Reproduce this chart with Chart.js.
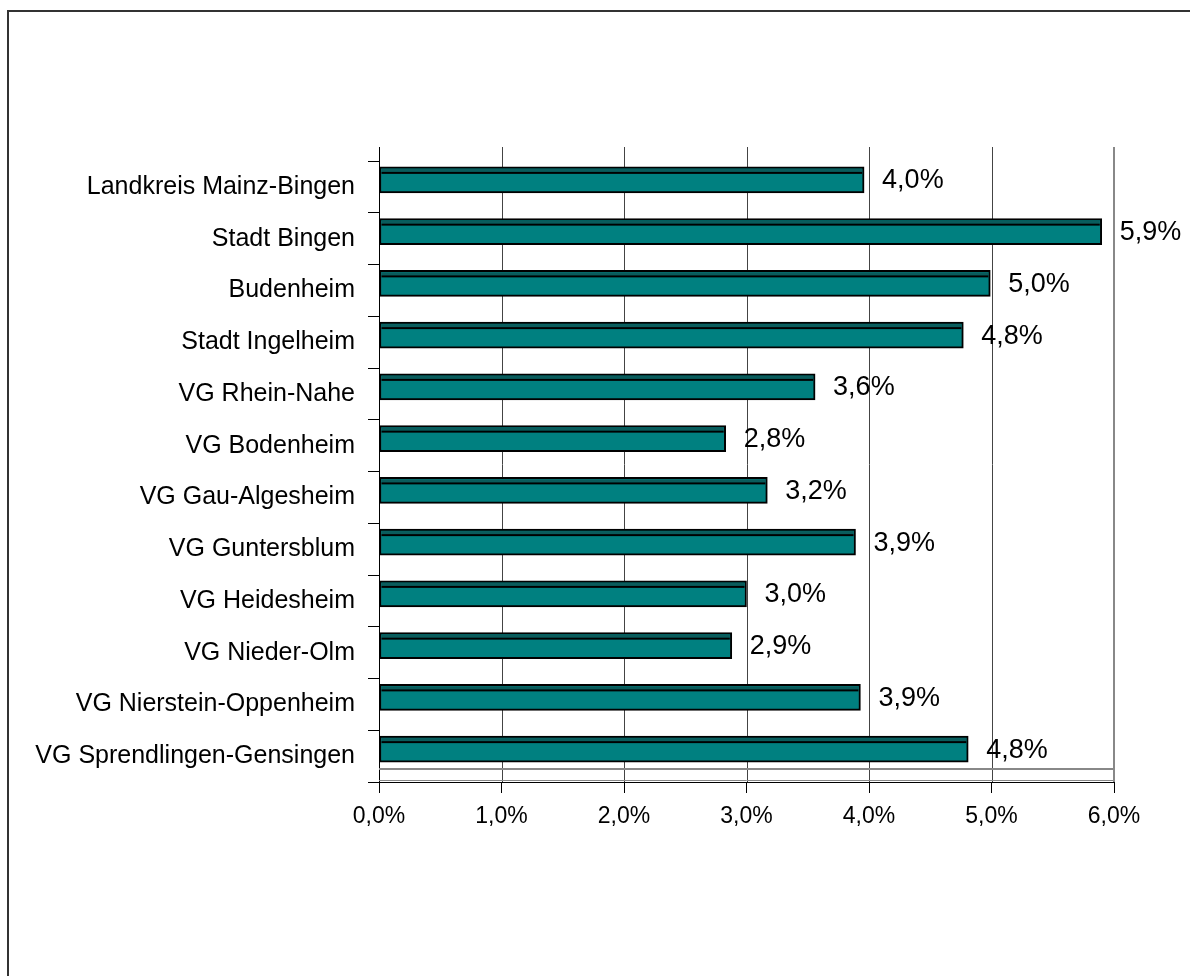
<!DOCTYPE html>
<html>
<head>
<meta charset="utf-8">
<script src="https://cdn.jsdelivr.net/npm/chart.js@4/dist/chart.umd.min.js"></script>
<style>
  html, body { margin: 0; padding: 0; background: #fff; }
  canvas { display: block; }
</style>
</head>
<body>
<canvas id="chart" width="1190" height="976" style="width:1190px;height:976px"></canvas>
<script>
const CATEGORIES = [
  'Landkreis Mainz-Bingen',
  'Stadt Bingen',
  'Budenheim',
  'Stadt Ingelheim',
  'VG Rhein-Nahe',
  'VG Bodenheim',
  'VG Gau-Algesheim',
  'VG Guntersblum',
  'VG Heidesheim',
  'VG Nieder-Olm',
  'VG Nierstein-Oppenheim',
  'VG Sprendlingen-Gensingen',
];
const SHARES = [3.96, 5.90, 4.99, 4.77, 3.56, 2.83, 3.17, 3.89, 3.00, 2.88, 3.93, 4.81];
const X_TICK_LABELS = ['0,0%', '1,0%', '2,0%', '3,0%', '4,0%', '5,0%', '6,0%'];

const FONT = "'Liberation Sans', Arial, sans-serif";
const DEPTH = 7; // vertical shift of the 3d look

function pct(v) {
  return v.toFixed(1).replace('.', ',') + '%';
}

// back wall, floor, frame, bar tops and value labels
const wallPlugin = {
  id: 'wall',
  beforeDraw(chart) {
    let ctx = chart.ctx;
    ctx.save();
    ctx.strokeStyle = '#333';
    ctx.lineWidth = 2;
    ctx.beginPath();
    ctx.moveTo(8, 1000);
    ctx.lineTo(8, 11);
    ctx.lineTo(1200, 11);
    ctx.stroke();
    ctx.restore();
  },
  beforeDatasetsDraw(chart) {
    let { ctx, chartArea: a, scales: { x } } = chart;
    let wallTop = a.top - 14;
    let wallBottom = a.bottom - 13;
    ctx.save();
    ctx.lineWidth = 1;
    for (let v = 0; v < 6; v++) {
      let px = Math.round(x.getPixelForValue(v)) + 0.5;
      ctx.strokeStyle = v === 0 ? '#000' : '#444';
      ctx.beginPath();
      ctx.moveTo(px, wallTop);
      ctx.lineTo(px, a.bottom);
      ctx.stroke();
    }
    ctx.strokeStyle = '#888';
    ctx.lineWidth = 2;
    ctx.beginPath();
    ctx.moveTo(a.right, wallTop);
    ctx.lineTo(a.right, a.bottom);
    ctx.moveTo(a.left, wallBottom);
    ctx.lineTo(a.right, wallBottom);
    ctx.stroke();
    ctx.lineWidth = 1;
    ctx.beginPath();
    ctx.moveTo(a.left, a.bottom - 1.5);
    ctx.lineTo(a.right, a.bottom - 1.5);
    ctx.stroke();
    ctx.restore();

    ctx.save();
    ctx.translate(0, -DEPTH);
  },
  afterDatasetsDraw(chart) {
    let ctx = chart.ctx;
    ctx.restore();

    let meta = chart.getDatasetMeta(0);
    ctx.save();
    meta.data.forEach((bar, i) => {
      let top = bar.y - bar.height / 2 - DEPTH;
      let left = bar.base;
      let w = bar.x - left;
      ctx.fillStyle = '#0a5c5c';
      ctx.fillRect(left + 2, top + 2, w - 4, 3);
      ctx.fillStyle = '#000';
      ctx.fillRect(left + 2, top + 5, w - 4, 2);

      ctx.font = '27px ' + FONT;
      ctx.fillStyle = '#000';
      ctx.textAlign = 'left';
      ctx.textBaseline = 'middle';
      ctx.fillText(pct(SHARES[i]), bar.x + 18, bar.y - DEPTH + 1);
    });
    ctx.restore();
  },
};

new Chart(document.getElementById('chart'), {
  type: 'bar',
  data: {
    labels: CATEGORIES,
    datasets: [{
      data: SHARES,
      backgroundColor: '#008080',
      borderColor: '#000',
      borderWidth: 2,
      borderSkipped: false,
      barThickness: 26,
    }],
  },
  options: {
    indexAxis: 'y',
    responsive: false,
    animation: false,
    devicePixelRatio: 1,
    layout: {
      padding: { top: 161, right: 76, bottom: 0, left: 0 },
    },
    plugins: {
      legend: { display: false },
      tooltip: { enabled: false },
    },
    scales: {
      x: {
        min: 0,
        max: 6,
        ticks: {
          stepSize: 1,
          callback: (v, i) => X_TICK_LABELS[i],
          font: { family: FONT, size: 23 },
          color: '#000',
          padding: 10,
          maxRotation: 0,
        },
        grid: { drawOnChartArea: false, drawTicks: true, tickLength: 11, color: '#000' },
        border: { color: '#000', width: 1 },
        afterFit: s => { s.height = 194; },
      },
      y: {
        ticks: {
          font: { family: FONT, size: 25 },
          color: '#000',
          padding: 13,
          autoSkip: false,
        },
        grid: { drawOnChartArea: false, drawTicks: true, tickLength: 11, color: '#000', offset: true },
        border: { color: '#000', width: 1 },
        afterFit: s => { s.width = 379; },
      },
    },
  },
  plugins: [wallPlugin],
});
</script>
</body>
</html>
